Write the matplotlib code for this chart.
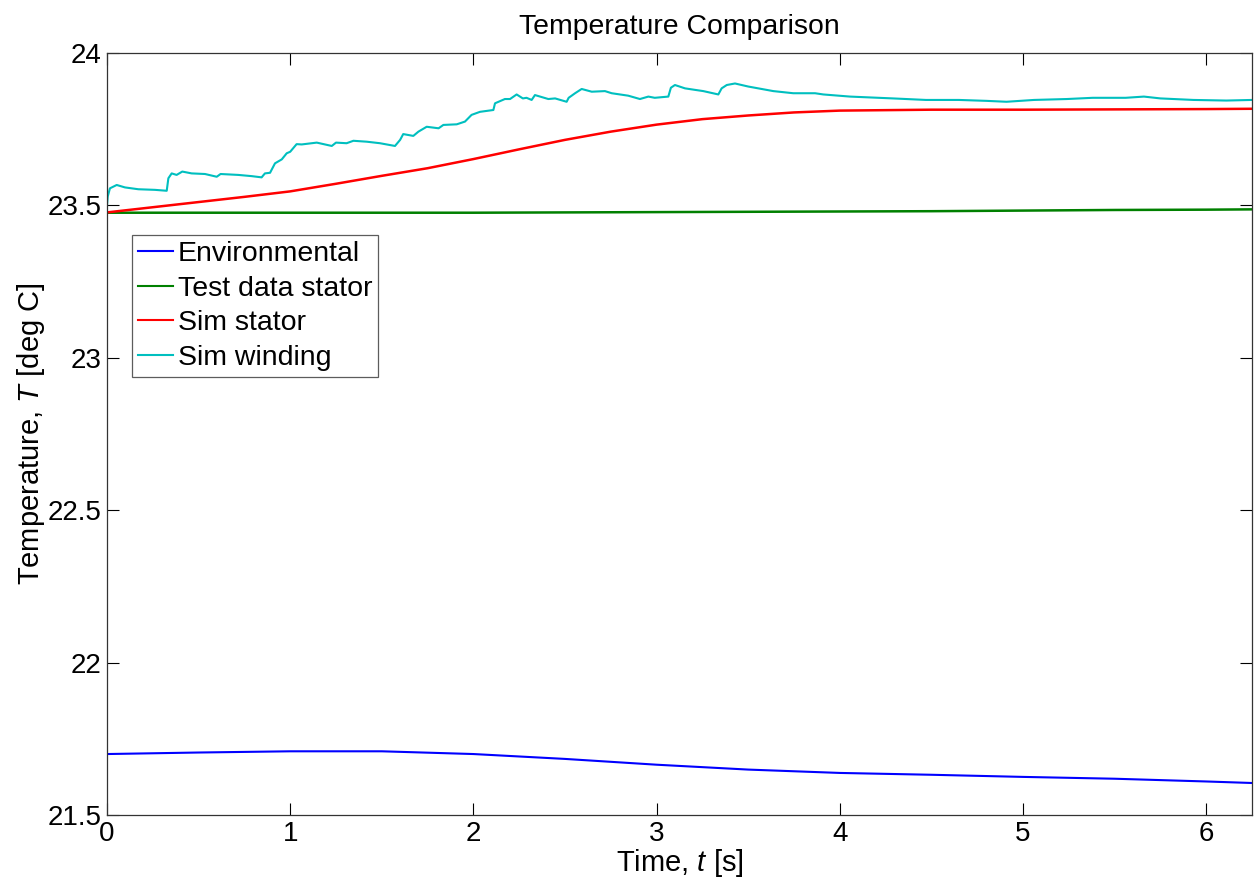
import matplotlib
matplotlib.use("Agg")
import matplotlib.pyplot as plt

plt.rcParams['font.family'] = ['Liberation Sans', 'DejaVu Sans']
plt.rcParams['mathtext.fontset'] = 'custom'
plt.rcParams['mathtext.it'] = 'Liberation Sans:italic'
plt.rcParams['mathtext.rm'] = 'Liberation Sans'

# ---- data ----
t_env = [0.0, 0.5, 1.0, 1.5, 2.0, 2.5, 3.0, 3.5, 4.0, 4.5, 5.0, 5.5, 6.0, 6.25]
y_env = [21.700, 21.705, 21.709, 21.709, 21.700, 21.684, 21.665, 21.649, 21.638, 21.632,
         21.625, 21.619, 21.610, 21.605]

t_test = [0.0, 1.0, 2.0, 2.5, 3.0, 3.5, 4.0, 4.5, 5.0, 5.5, 6.0, 6.25]
y_test = [23.476, 23.476, 23.476, 23.477, 23.478, 23.479, 23.480, 23.481, 23.483, 23.485,
          23.486, 23.487]

t_sim_stator = [0.0, 0.25, 0.5, 0.75, 1.0, 1.25, 1.5, 1.75, 2.0, 2.25, 2.5, 2.75, 3.0, 3.25,
                3.5, 3.75, 4.0, 4.5, 5.0, 5.5, 6.0, 6.25]
y_sim_stator = [23.477, 23.494, 23.511, 23.528, 23.546, 23.571, 23.597, 23.622, 23.652,
                23.684, 23.715, 23.742, 23.765, 23.783, 23.795, 23.805, 23.811, 23.814,
                23.814, 23.815, 23.816, 23.817]

t_winding = [0.0, 0.004, 0.016, 0.053, 0.098, 0.171, 0.262, 0.326, 0.335, 0.353, 0.38, 0.411,
             0.462, 0.535, 0.599, 0.62, 0.717, 0.79, 0.844, 0.862, 0.89, 0.917, 0.954, 0.981,
             1.0, 1.035, 1.063, 1.145, 1.227, 1.25, 1.308, 1.345, 1.418, 1.49, 1.572, 1.60,
             1.617, 1.672, 1.70, 1.745, 1.81, 1.836, 1.909, 1.954, 1.99, 2.036, 2.109, 2.118,
             2.172, 2.2, 2.236, 2.27, 2.29, 2.318, 2.336, 2.409, 2.446, 2.509, 2.52, 2.555,
             2.591, 2.646, 2.718, 2.755, 2.845, 2.909, 2.955, 2.99, 3.064, 3.078, 3.10, 3.155,
             3.21, 3.255, 3.337, 3.355, 3.383, 3.428, 3.50, 3.637, 3.746, 3.865, 3.91, 4.056,
             4.29, 4.47, 4.65, 4.80, 4.91, 5.06, 5.24, 5.38, 5.56, 5.66, 5.75, 5.93, 6.11, 6.25]
y_winding = [23.500, 23.529, 23.556, 23.567, 23.559, 23.553, 23.551, 23.548, 23.589, 23.605,
             23.600, 23.611, 23.605, 23.603, 23.594, 23.603, 23.600, 23.596, 23.592, 23.605,
             23.607, 23.638, 23.651, 23.671, 23.676, 23.701, 23.700, 23.706, 23.695, 23.706,
             23.704, 23.712, 23.709, 23.704, 23.695, 23.715, 23.734, 23.728, 23.742, 23.758,
             23.753, 23.764, 23.766, 23.775, 23.797, 23.807, 23.813, 23.835, 23.849, 23.849,
             23.864, 23.851, 23.853, 23.846, 23.862, 23.849, 23.851, 23.840, 23.853, 23.868,
             23.882, 23.873, 23.875, 23.868, 23.860, 23.849, 23.857, 23.853, 23.857, 23.886,
             23.895, 23.884, 23.879, 23.875, 23.864, 23.884, 23.895, 23.900, 23.890, 23.875,
             23.868, 23.868, 23.864, 23.857, 23.851, 23.846, 23.846, 23.843, 23.840, 23.846,
             23.849, 23.853, 23.853, 23.857, 23.851, 23.846, 23.844, 23.846]

x_ticks = [0, 1, 2, 3, 4, 5, 6]
y_ticks = [21.5, 22.0, 22.5, 23.0, 23.5, 24.0]
y_tick_labels = ['21.5', '22', '22.5', '23', '23.5', '24']
series_labels = ['Environmental', 'Test data stator', 'Sim stator', 'Sim winding']

# ---- figure ----
fig = plt.figure(figsize=(12.57, 8.86), dpi=100)
ax = fig.add_axes([107 / 1257, 1 - 815 / 886, 1145 / 1257, 762 / 886])

ax.plot(t_env, y_env, color=(0, 0, 1), lw=1.5, label=series_labels[0])
ax.plot(t_test, y_test, color=(0, 0.5, 0), lw=1.8, label=series_labels[1])
ax.plot(t_sim_stator, y_sim_stator, color=(1, 0, 0), lw=1.8, label=series_labels[2])
ax.plot(t_winding, y_winding, color=(0, 0.75, 0.75), lw=1.5, label=series_labels[3])

ax.set_xlim(0, 6.25)
ax.set_ylim(21.5, 24)
ax.set_xticks(x_ticks)
ax.set_xticklabels([str(v) for v in x_ticks])
ax.set_yticks(y_ticks)
ax.set_yticklabels(y_tick_labels)
ax.tick_params(direction='in', length=8.5, width=0.8, top=True, right=True,
               labelsize=20, pad=4, colors='black')

for s in ax.spines.values():
    s.set_linewidth(0.9)
    s.set_color('#333333')

ax.set_title('Temperature Comparison', fontsize=20.4, pad=14)
ax.set_xlabel('Time, $\\mathit{t}$ [s]', fontsize=21, labelpad=0)
ax.set_ylabel('Temperature, $\\mathit{T}$ [deg C]', fontsize=21, labelpad=0)

leg = ax.legend(loc='upper left', bbox_to_anchor=(25 / 1145, 1 - 182 / 762),
                borderaxespad=0, fontsize=20.5, handlelength=1.25, handletextpad=0.15,
                labelspacing=0.31, borderpad=0.2, frameon=True, fancybox=False)
leg.get_frame().set_edgecolor('#333333')
leg.get_frame().set_linewidth(0.9)
for line in leg.get_lines():
    line.set_linewidth(1.5)

fig.savefig('out.png', dpi=100)
